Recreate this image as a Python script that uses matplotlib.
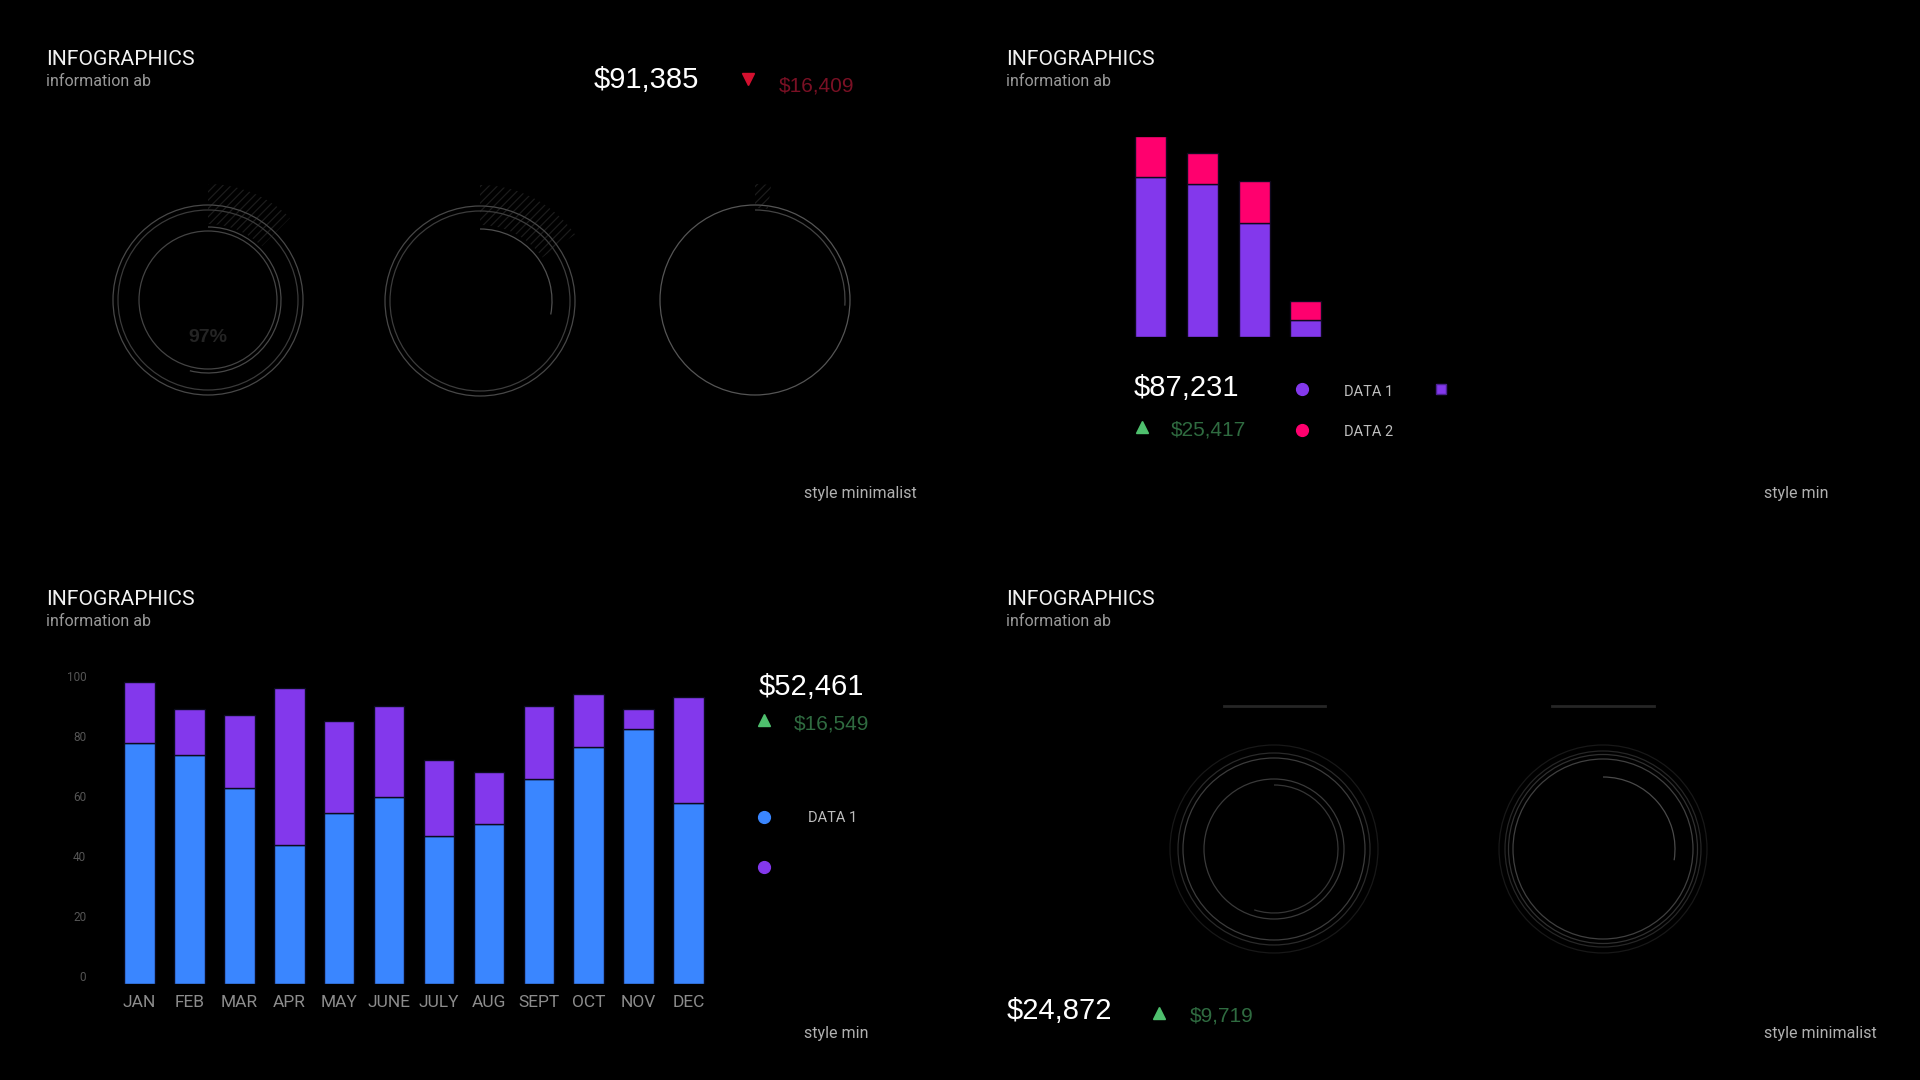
import matplotlib
matplotlib.use('Agg')
import matplotlib.pyplot as plt
from matplotlib.patches import Circle, Arc, Wedge
from matplotlib.transforms import ScaledTranslation
from matplotlib import font_manager

W, H = 1920, 1080

# ---- data ----
months = ['JAN', 'FEB', 'MAR', 'APR', 'MAY', 'JUNE', 'JULY', 'AUG', 'SEPT', 'OCT', 'NOV', 'DEC']
month_data1 = [80.4, 76.4, 65.5, 46.3, 57.2, 62.4, 49.4, 53.4, 68.5, 79.3, 85.3, 60.4]
month_data2 = [20.4, 15.3, 24.2, 52.5, 30.5, 30.3, 25.3, 17.3, 24.2, 17.4, 6.4, 35.3]
month_yticks = [0, 20, 40, 60, 80, 100]

bar_data1 = [80.3, 76.5, 57.0, 8.7]
bar_data2 = [20.5, 15.5, 21.3, 9.7]

gauge_labels = ['97%', '', '']
gauge_arcs = [0.54, 0.28, 0.26]      # fraction of the progress arc drawn
ring_arcs = [0.55, 0.275]            # bottom-right gauges

kpi_top_left = ('$91,385', '$16,409')
kpi_top_right = ('$87,231', '$25,417')
kpi_bottom_left = ('$52,461', '$16,549')
kpi_bottom_right = ('$24,872', '$9,719')

BLUE = '#3a86ff'
PURPLE = '#8338ec'
PINK = '#ff006e'
GREEN_TRI = '#4fc06e'
GREEN_TXT = '#2f6b40'
RED_TRI = '#d4102f'
RED_TXT = '#7a1024'

names = {f.name for f in font_manager.fontManager.ttflist}
NARROW = 'Liberation Sans Narrow' if 'Liberation Sans Narrow' in names else 'Roboto'
REG = 'Liberation Sans' if 'Liberation Sans' in names else 'DejaVu Sans'
plt.rcParams['hatch.linewidth'] = 0.9

fig = plt.figure(figsize=(W / 100, H / 100), dpi=100, facecolor='black')

# overlay in pixel coordinates (y downwards)
ov = fig.add_axes([0, 0, 1, 1])
ov.set_xlim(0, W)
ov.set_ylim(H, 0)
ov.axis('off')
ov.patch.set_alpha(0)


def px_axes(left, top, width, height):
    ax = fig.add_axes([left / W, 1 - (top + height) / H, width / W, height / H])
    ax.set_facecolor('none')
    for s in ax.spines.values():
        s.set_visible(False)
    return ax


def txt(x, y, s, size, color, family=NARROW, ha='left', va='baseline', weight='normal'):
    ov.text(x, y, s, fontsize=size, color=color, family=family, ha=ha, va=va, weight=weight)


def arc(cx, cy, r, start, sweep, color, lw=0.9):
    # start: screen angle (deg, ccw from 3 o'clock); sweep goes clockwise
    ov.add_patch(Arc((cx, cy), 2 * r, 2 * r, theta1=-start, theta2=-start + sweep,
                     color=color, lw=lw))


def ring(cx, cy, r, color, lw=0.9):
    ov.add_patch(Circle((cx, cy), r, fill=False, ec=color, lw=lw))


def hatch(cx, cy, r_in, r_out, a1, a2):
    ov.add_patch(Wedge((cx, cy), r_out, -a2, -a1, width=r_out - r_in, fill=False,
                       hatch='////', ec='#1c1c1c', lw=0))


def header(x, y):
    txt(x, y + 65, 'INFOGRAPHICS', 15.2, '#f2f2f2')
    txt(x, y + 86, 'information ab', 11.5, '#9a9a9a')


# ---------------- top-left panel ----------------
header(46.5, 0)
txt(594, 88, kpi_top_left[0], 21, 'white', family=REG)
ov.plot([748], [79], marker='v', ms=9, color=RED_TRI, ls='none')
txt(779, 91, kpi_top_left[1], 15, RED_TXT, family=REG)
txt(804, 498, 'style minimalist', 11.5, '#b0b0b0')

gauge_centers = [(208, 300), (480, 301), (755, 300)]
# gauge 1
cx, cy = gauge_centers[0]
hatch(cx, cy, 76, 116, 45, 90)
ring(cx, cy, 95, '#484848')
ring(cx, cy, 90, '#3a3a3a')
ring(cx, cy, 69, '#444444')
arc(cx, cy, 73, 90, 360 * gauge_arcs[0], '#484848')
txt(cx, cy + 42, gauge_labels[0], 14, '#242424', family=REG, ha='center', weight='bold')
# gauge 2
cx, cy = gauge_centers[1]
hatch(cx, cy, 76, 116, 35, 90)
ring(cx, cy, 95, '#484848')
ring(cx, cy, 90, '#3c3c3c')
arc(cx, cy, 72, 90, 360 * gauge_arcs[1], '#505050')
# gauge 3
cx, cy = gauge_centers[2]
hatch(cx, cy, 92, 116, 82, 90)
ring(cx, cy, 95, '#555555')
arc(cx, cy, 90, 90, 360 * gauge_arcs[2], '#444444')

# ---------------- top-right panel ----------------
header(1006.5, 0)
step, c0, base, ppu = 51.8, 1150.5, 337.3, 2.0
ax2 = px_axes(c0 - step / 2, base - 100 * ppu, 4 * step, 100 * ppu)
x2 = list(range(len(bar_data1)))
ax2.bar(x2, bar_data1, width=0.6, color=PURPLE, edgecolor='#100a20', lw=1)
ax2.bar(x2, bar_data2, bottom=bar_data1, width=0.6, color=PINK, edgecolor='#100a20', lw=1)
ax2.set_xlim(-0.5, 3.5)
ax2.set_ylim(0, 100)
ax2.set_xticks([])
ax2.set_yticks([])

txt(1134, 396.5, kpi_top_right[0], 21, 'white', family=REG)
ov.plot([1141.5], [427], marker='^', ms=9, color=GREEN_TRI, ls='none')
txt(1171, 436, kpi_top_right[1], 15, GREEN_TXT, family=REG)
ov.plot([1301.5], [389.3], marker='o', ms=8.5, color=PURPLE, ls='none')
txt(1344, 396, 'DATA 1', 10.5, '#bdbdbd')
ov.plot([1441], [389.3], marker='s', ms=7, color=PURPLE, mec='#4a2290', ls='none')
ov.plot([1301.5], [430], marker='o', ms=8.5, color=PINK, ls='none')
txt(1344, 436, 'DATA 2', 10.5, '#bdbdbd')
txt(1764.5, 498, 'style min', 11.5, '#b0b0b0')

# ---------------- bottom-left panel ----------------
header(46.5, 540)
step, c0, base, ppu, ymax = 49.9, 139.6, 984.2, 2.996, 105
ax3 = px_axes(c0 - step / 2, base - ymax * ppu, 12 * step, ymax * ppu)
x3 = list(range(len(months)))
ax3.bar(x3, month_data1, width=0.613, color=BLUE, edgecolor='#0b0b1e', lw=1)
ax3.bar(x3, month_data2, bottom=month_data1, width=0.613, color=PURPLE,
        edgecolor='#0b0b1e', lw=1)
ax3.set_xlim(-0.5, 11.5)
ax3.set_ylim(0, ymax)
ax3.set_xticks(x3, months)
ax3.set_yticks(month_yticks, [str(v) for v in month_yticks])
ax3.tick_params(axis='x', length=0, pad=8, labelsize=12.5, labelcolor='#8c8c8c')
ax3.tick_params(axis='y', length=0, pad=20.5, labelsize=8.5, labelcolor='#555555')
for lbl in ax3.get_xticklabels() + ax3.get_yticklabels():
    lbl.set_family(NARROW)
for lbl in ax3.get_yticklabels():
    lbl.set_transform(lbl.get_transform() + ScaledTranslation(0, 0.086, fig.dpi_scale_trans))

txt(759, 695, kpi_bottom_left[0], 21, 'white', family=REG)
ov.plot([764], [720], marker='^', ms=9, color=GREEN_TRI, ls='none')
txt(794, 730, kpi_bottom_left[1], 15, GREEN_TXT, family=REG)
ov.plot([764], [817], marker='o', ms=8.5, color=BLUE, ls='none')
txt(808, 822, 'DATA 1', 10.5, '#bdbdbd')
ov.plot([764], [866.5], marker='o', ms=8.5, color=PURPLE, ls='none')
txt(804.5, 1038, 'style min', 11.5, '#b0b0b0')

# ---------------- bottom-right panel ----------------
header(1006.5, 540)
ring_centers = [(1274, 849), (1603, 849)]
cx, cy = ring_centers[0]
ov.plot([cx - 50, cx + 51], [706, 706], color='#262626', lw=2)
ring(cx, cy, 104, '#181818')
ring(cx, cy, 96, '#2a2a2a')
ring(cx, cy, 91, '#3c3c3c')
ring(cx, cy, 70, '#3a3a3a')
arc(cx, cy, 64, 90, 360 * ring_arcs[0], '#363636')
cx, cy = ring_centers[1]
ov.plot([cx - 51, cx + 51], [706, 706], color='#262626', lw=2)
ring(cx, cy, 104, '#181818')
ring(cx, cy, 98, '#262626')
ring(cx, cy, 94.5, '#303030')
ring(cx, cy, 90, '#404040')
arc(cx, cy, 72, 90, 360 * ring_arcs[1], '#4a4a4a')

txt(1006.5, 1019, kpi_bottom_right[0], 21, 'white', family=REG)
ov.plot([1159], [1013], marker='^', ms=9, color=GREEN_TRI, ls='none')
txt(1189.5, 1022, kpi_bottom_right[1], 15, GREEN_TXT, family=REG)
txt(1764.5, 1038, 'style minimalist', 11.5, '#b0b0b0')

fig.savefig('out.png', dpi=100, facecolor='black')
